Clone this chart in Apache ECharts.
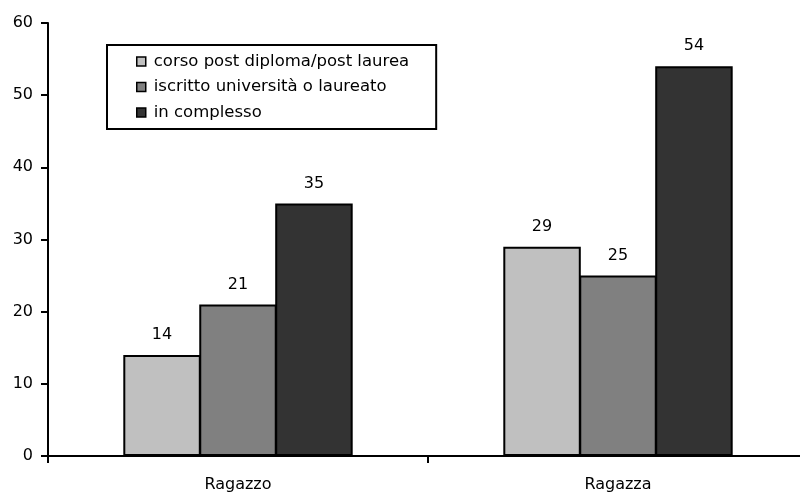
<!DOCTYPE html>
<html>
<head>
<meta charset="utf-8">
<script src="https://cdn.jsdelivr.net/npm/echarts@6/dist/echarts.min.js"></script>
<style>
html, body { margin: 0; padding: 0; background: #fff; overflow: hidden; }
/* axis runs a little past the right edge in the original */
#chart { width: 808px; height: 493px; }
</style>
</head>
<body>
<div id="chart"></div>
<script>
const categories = ['Ragazzo', 'Ragazza']
const seriesNames = ['corso post diploma/post laurea', 'iscritto università o laureato', 'in complesso']
const postDiploma = [14, 29]
const universita = [21, 25]
const complesso = [35, 54]
const yTicks = [0, 10, 20, 30, 40, 50, 60]

const colors = ['#c0c0c0', '#808080', '#333333']
const font = 'DejaVu Sans'

const myChart = echarts.init(document.getElementById('chart'))

function makeSeries(name, data, color) {
    return {
        name: name,
        type: 'bar',
        data: data,
        barWidth: 77.5,
        barGap: '-2%',
        itemStyle: {
            color: color,
            borderColor: '#000',
            borderWidth: 2
        },
        label: {
            show: true,
            position: 'top',
            distance: 12,
            color: '#000',
            fontFamily: font,
            fontSize: 16
        },
        emphasis: { disabled: true }
    }
}

myChart.setOption({
    animation: false,
    grid: {
        left: 48,
        top: 23,
        bottom: 36,
        right: 0,
        containLabel: false
    },
    legend: {
        orient: 'vertical',
        left: 107,
        top: 45,
        padding: [8, 27, 8, 29],
        itemWidth: 9,
        itemHeight: 9,
        itemGap: 8.5,
        borderColor: '#000',
        borderWidth: 2,
        icon: 'rect',
        itemStyle: { borderColor: '#000', borderWidth: 1.5 },
        textStyle: {
            fontFamily: font,
            fontSize: 16.5,
            lineHeight: 16.5,
            color: '#000',
            padding: [0, 0, 0, 3]
        },
        data: seriesNames
    },
    xAxis: {
        type: 'category',
        data: categories,
        axisLine: { lineStyle: { color: '#000', width: 2 } },
        axisTick: { show: true, length: 7, lineStyle: { color: '#000', width: 2 } },
        axisLabel: { margin: 21, color: '#000', fontFamily: font, fontSize: 16 }
    },
    yAxis: {
        type: 'value',
        min: yTicks[0],
        max: yTicks[yTicks.length - 1],
        interval: 10,
        splitLine: { show: false },
        axisLine: { show: true, lineStyle: { color: '#000', width: 2 } },
        axisTick: { show: true, length: 7, lineStyle: { color: '#000', width: 2 } },
        axisLabel: { margin: 15, color: '#000', fontFamily: font, fontSize: 16 }
    },
    series: [
        makeSeries(seriesNames[0], postDiploma, colors[0]),
        makeSeries(seriesNames[1], universita, colors[1]),
        makeSeries(seriesNames[2], complesso, colors[2])
    ]
})
</script>
</body>
</html>
